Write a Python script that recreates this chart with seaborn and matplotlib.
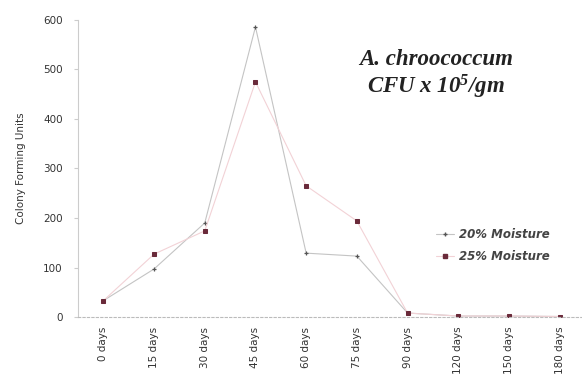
import matplotlib
matplotlib.use("Agg")
import matplotlib.pyplot as plt
import seaborn as sns
import pandas as pd
from matplotlib.lines import Line2D

days = ["0 days", "15 days", "30 days", "45 days", "60 days", "75 days",
        "90 days", "120 days", "150 days", "180 days"]
moist20 = [33, 97, 190, 586, 129, 123, 8, 2, 2, 1]
moist25 = [33, 127, 174, 475, 265, 194, 8, 2, 2, 1]
series_names = ["20% Moisture", "25% Moisture"]
yticks = [0, 100, 200, 300, 400, 500, 600]

df20 = pd.DataFrame({"day": days, "cfu": moist20})
df25 = pd.DataFrame({"day": days, "cfu": moist25})

sns.set_style("white")
plt.rcParams["font.family"] = ["DejaVu Sans"]
plt.rcParams["mathtext.fontset"] = "custom"
plt.rcParams["mathtext.rm"] = "Liberation Serif:italic:bold"
plt.rcParams["mathtext.it"] = "Liberation Serif:italic:bold"
plt.rcParams["mathtext.bf"] = "Liberation Serif:italic:bold"

fig = plt.figure(figsize=(5.82, 3.91), dpi=100)
ax = fig.add_axes([78 / 582, 1 - 317 / 391, 1 - 78 / 582, (317 - 20) / 391])

line20_c, line25_c = "#c4c4c4", "#f2d2d6"
mk20_c, mk25_c = "#555555", "#6a2a3a"

sns.lineplot(data=df20, x="day", y="cfu", color=line20_c, marker="+",
             markersize=3.5, markeredgecolor=mk20_c, markeredgewidth=0.9,
             linewidth=0.8, sort=False, ax=ax)
sns.lineplot(data=df25, x="day", y="cfu", color=line25_c, marker="s",
             markersize=3, markeredgecolor=mk25_c, markerfacecolor=mk25_c,
             linewidth=0.8, sort=False, ax=ax)

ax.set_xlim(-0.5, 9.44)
ax.set_ylim(0, 600)
ax.set_yticks(yticks)
ax.set_yticklabels([str(v) for v in yticks], fontsize=7.5, color="#333333")
ax.tick_params(axis="x", labelrotation=90, labelsize=7.5, colors="#333333", length=0, pad=7)
ax.tick_params(axis="y", left=True, length=3, color="#cccccc", pad=8)
ax.set_xlabel("")
ax.set_ylabel("Colony Forming Units", fontsize=7.5, color="#333333", labelpad=12)

for s in ["top", "right"]:
    ax.spines[s].set_visible(False)
ax.spines["left"].set_color("#cccccc")
ax.spines["left"].set_linewidth(0.8)
ax.spines["bottom"].set_color("#bbbbbb")
ax.spines["bottom"].set_linestyle((0, (2, 2)))
ax.spines["bottom"].set_linewidth(0.8)

ax.text(0.71, 0.815, "A. chroococcum\nCFU x 10$^{\\mathrm{5}}$/gm", transform=ax.transAxes,
        ha="center", va="center", fontsize=16.5, fontweight="bold",
        fontstyle="italic", family="Liberation Serif", color="#222222",
        linespacing=1.1)

handles = [
    Line2D([], [], color=line20_c, marker="+", markersize=3.5,
           markeredgecolor=mk20_c, lw=0.8),
    Line2D([], [], color=line25_c, marker="s", markersize=3,
           markeredgecolor=mk25_c, markerfacecolor=mk25_c, lw=0.8),
]
leg = ax.legend(handles, series_names, loc="center left",
                bbox_to_anchor=(0.69, 0.24), frameon=False,
                prop={"size": 8.5, "style": "italic", "weight": "bold"},
                handlelength=1.5, handletextpad=0.4, labelspacing=0.75)
for t in leg.get_texts():
    t.set_color("#444444")

fig.savefig("out.png", dpi=100)
